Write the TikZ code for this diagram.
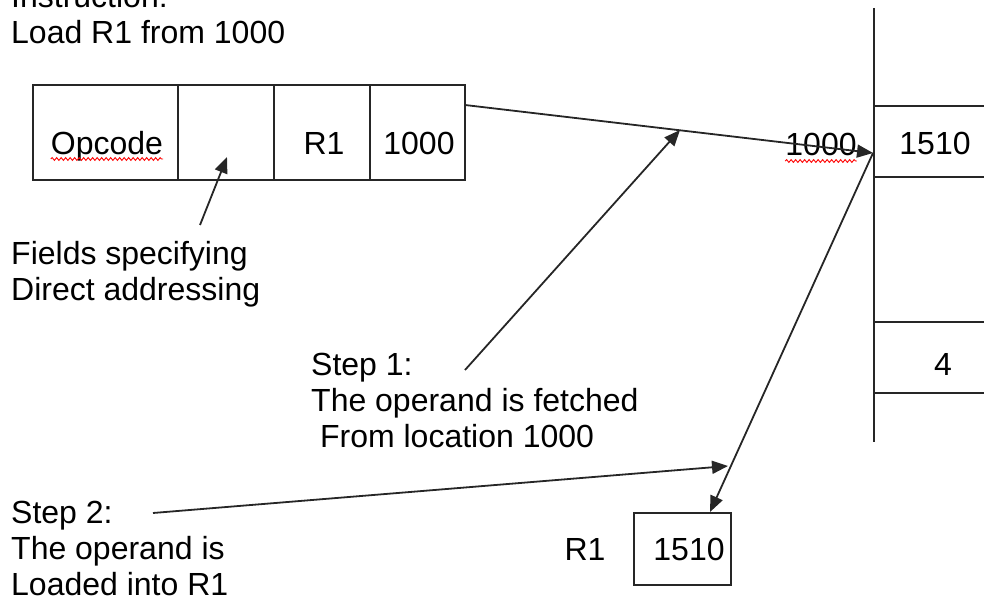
\documentclass[tikz,border=0pt]{standalone}
\usepackage{fontspec}
\setmainfont{Liberation Sans}
\usetikzlibrary{arrows.meta,decorations.pathmorphing}
\begin{document}
\begin{tikzpicture}[x=1pt,y=-1pt,
  txt/.style={inner sep=0pt, anchor=base west, font=\fontsize{32}{36}\selectfont},
  ctxt/.style={inner sep=0pt, anchor=base, font=\fontsize{32}{36}\selectfont},
  cell/.style={draw=black!85, line width=2pt, inner sep=0pt},
  rule/.style={draw=black!85, line width=2pt},
  arr/.style={draw=black!85, line width=1.8pt, -{Triangle[length=16pt,width=13pt]}},
  typo/.style={red, line width=0.9pt, decorate,
    decoration={snake, segment length=4.5pt, amplitude=1.4pt}}
]
\useasboundingbox (0,0) rectangle (984,601);

% instruction word: four fields
\node[cell, minimum width=145pt, minimum height=95pt] (opc) at (105.5,132.5) {};
\node[cell, minimum width=96pt,  minimum height=95pt] (mode) at (226,132.5) {};
\node[cell, minimum width=96pt,  minimum height=95pt] (reg) at (322,132.5) {};
\node[cell, minimum width=95pt,  minimum height=95pt] (addr) at (417.5,132.5) {};
\node[ctxt] (opctext) at (107,155) {Opcode};
\node[ctxt] (regtext) at (324,155) {R1};
\node[ctxt] (addrtext) at (419,155) {1000};

% memory column
\draw[rule] (874,8) -- (874,442);
\foreach \yy in {106,177,322,393} \draw[rule] (874,\yy) -- (990,\yy);
\node[ctxt] (memval) at (935,155) {1510};
\node[ctxt] (memfour) at (943,375) {4};
\node[ctxt] (memaddr) at (821,156) {1000};

% register R1
\node[cell, minimum width=97pt, minimum height=72pt] (r1box) at (682.5,549) {};
\node[ctxt] (r1val) at (689,560) {1510};
\node[ctxt] (r1name) at (585,560) {R1};

% captions
\begin{scope}[every node/.append style={font=\fontsize{32}{37}\selectfont}]
\node[txt] (title) at (11,8) {\begin{tabular}[t]{@{}l@{}}Instruction:\\Load R1 from 1000\end{tabular}};
\end{scope}
\begin{scope}[every node/.append style={font=\fontsize{32}{35}\selectfont}]
\node[txt] (fields) at (11,265) {\begin{tabular}[t]{@{}l@{}}Fields specifying\\Direct addressing\end{tabular}};
\end{scope}
\begin{scope}[every node/.append style={font=\fontsize{32}{34}\selectfont}]
\node[txt] (step1) at (311,375) {\begin{tabular}[t]{@{}l@{}}Step 1:\\The operand is fetched\\\ From location 1000\end{tabular}};
\end{scope}
\begin{scope}[every node/.append style={font=\fontsize{32}{37}\selectfont}]
\node[txt] (step2) at (11,523) {\begin{tabular}[t]{@{}l@{}}Step 2:\\The operand is\\Loaded into R1\end{tabular}};
\end{scope}

% spelling marks
\draw[typo] ([yshift=-4pt]opctext.base west) -- ([yshift=-4pt]opctext.base east);
\draw[typo] ([yshift=-5pt]memaddr.base west) -- ([yshift=-5pt]memaddr.base east);

% connector end points
\coordinate (addrout) at (465,105);
\coordinate (memin) at (873,153);
\coordinate (hit1) at (680,130);
\coordinate (step1tail) at (465,370);
\coordinate (fieldstail) at (200,225);
\coordinate (fieldstip) at (227,157);
\coordinate (r1top) at (710,512);
\coordinate (step2tail) at (153,513);
\coordinate (hit2) at (728,466);

% connectors
\draw[arr] (addrout) -- (memin);
\draw[arr] (step1tail) -- (hit1);
\draw[arr] (fieldstail) -- (fieldstip);
\draw[arr] (memin) -- (r1top);
\draw[arr] (step2tail) -- (hit2);
\end{tikzpicture}
\end{document}
